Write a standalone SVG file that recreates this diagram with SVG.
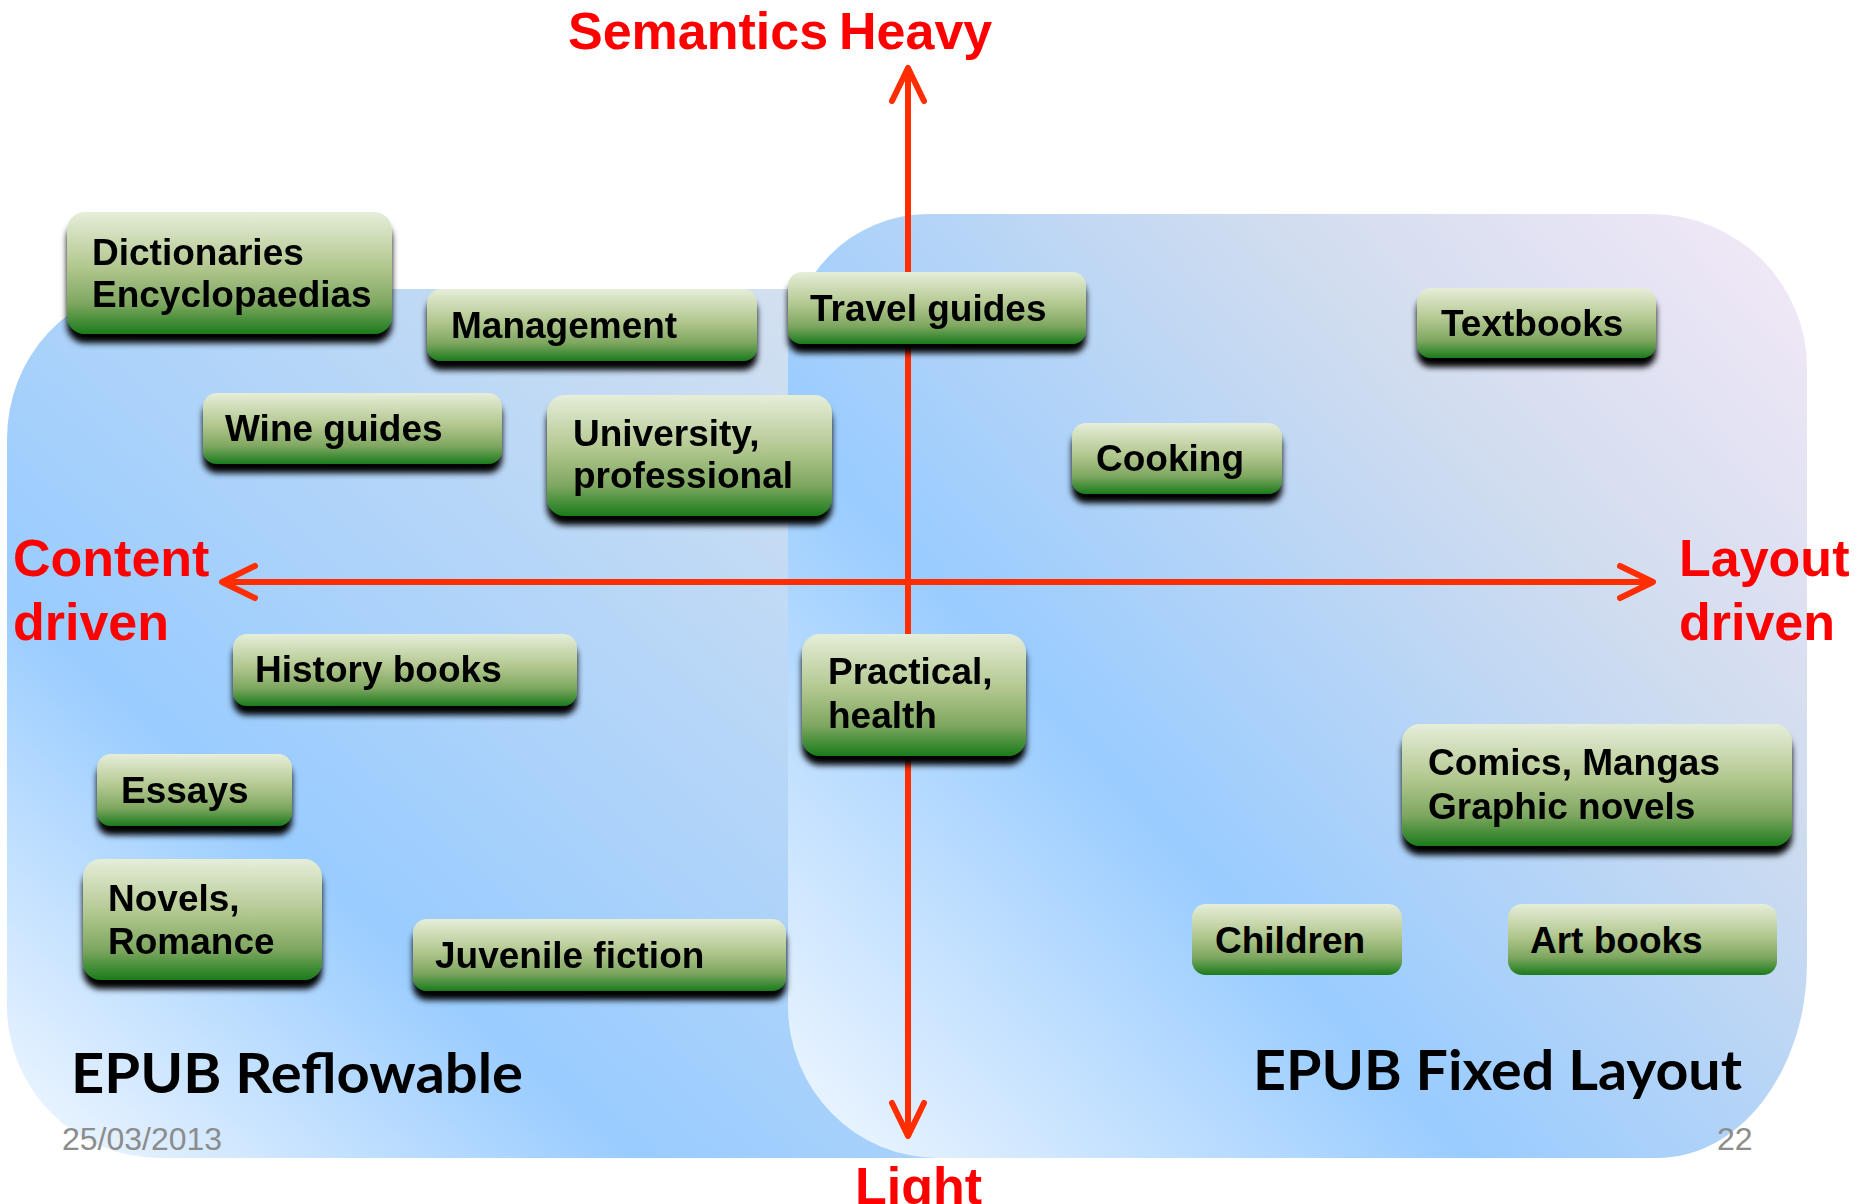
<svg xmlns="http://www.w3.org/2000/svg" width="1858" height="1204" viewBox="0 0 1858 1204">
<style>
.node-box{fill:url(#gGreen);}
.shadowed{filter:url(#shadow);}
.lbl{font-family:"Liberation Sans",Arial,sans-serif;font-weight:bold;font-size:37px;fill:#000;}
.axis-lbl{font-family:"Liberation Sans",Arial,sans-serif;font-weight:bold;font-size:52px;fill:#ff0000;}
.foot{font-family:"Liberation Sans",Arial,sans-serif;font-size:32px;fill:#8c8c8c;}
.region-lbl{font-family:Lato,"Liberation Sans",sans-serif;font-weight:bold;font-size:55px;fill:#000;}
.axis{stroke:#ff2d00;stroke-width:6;fill:none;}
</style>
<defs>
<linearGradient id="gGreen" x1="0" y1="0" x2="0" y2="1">
<stop offset="0" stop-color="#e6eed9"/>
<stop offset="0.45" stop-color="#b2c78f"/>
<stop offset="0.75" stop-color="#7ea760"/>
<stop offset="1" stop-color="#1b7b1b"/>
</linearGradient>
<linearGradient id="gLeft" gradientUnits="userSpaceOnUse" x1="7" y1="1158" x2="788" y2="289">
<stop offset="0" stop-color="#f4f9ff"/>
<stop offset="0.36" stop-color="#99ccff"/>
<stop offset="1" stop-color="#d3e0f0"/>
</linearGradient>
<linearGradient id="gRight" gradientUnits="userSpaceOnUse" x1="788" y1="1158" x2="1807" y2="214">
<stop offset="0" stop-color="#f2f8ff"/>
<stop offset="0.36" stop-color="#99ccff"/>
<stop offset="0.7" stop-color="#cfdcef"/>
<stop offset="1" stop-color="#f5e9f7"/>
</linearGradient>
<filter id="shadow" x="-5%" y="-10%" width="110%" height="140%">
<feGaussianBlur in="SourceAlpha" stdDeviation="3"/>
<feOffset dy="9" result="b"/>
<feMerge><feMergeNode in="b"/><feMergeNode in="SourceGraphic"/></feMerge>
</filter>
<marker id="arrow" markerUnits="userSpaceOnUse" viewBox="-40 -20 44 40" refX="0" refY="0" markerWidth="44" markerHeight="40" orient="auto-start-reverse" overflow="visible">
<path d="M -33 -16 L 0 0 L -33 16" fill="none" stroke="#ff2d00" stroke-width="6" stroke-linecap="round" stroke-linejoin="round"/>
</marker>
</defs>
<rect width="1858" height="1204" fill="#ffffff"/>
<g id="region-reflowable">
<path d="M 147 289 H 1000 V 1158 H 160 A 153 152 0 0 1 7 1006 V 439 A 140 150 0 0 1 147 289 Z" fill="url(#gLeft)"/>
</g>
<g id="region-fixed">
<path d="M 928 214 H 1651 A 156 154 0 0 1 1807 368 V 963 A 150 195 0 0 1 1657 1158 H 938 A 150 152 0 0 1 788 1006 V 357 A 140 143 0 0 1 928 214 Z" fill="url(#gRight)"/>
</g>
<g id="connectors">
<line class="axis" x1="908" y1="68" x2="908" y2="1136" marker-start="url(#arrow)" marker-end="url(#arrow)"/>
<line class="axis" x1="222" y1="582" x2="1653" y2="582" marker-start="url(#arrow)" marker-end="url(#arrow)"/>
</g>
<g id="node-dictionaries" class="shadowed">
<rect class="node-box" x="67" y="212" width="325" height="122" rx="18"/>
<text class="lbl" x="92" y="265">Dictionaries</text>
<text class="lbl" x="92" y="307">Encyclopaedias</text>
</g>
<g id="node-management" class="shadowed">
<rect class="node-box" x="427" y="289" width="330" height="72" rx="14"/>
<text class="lbl" x="451" y="338">Management</text>
</g>
<g id="node-travel" class="shadowed">
<rect class="node-box" x="788" y="272" width="298" height="72" rx="14"/>
<text class="lbl" x="810" y="321">Travel guides</text>
</g>
<g id="node-textbooks" class="shadowed">
<rect class="node-box" x="1417" y="288" width="239" height="70" rx="14"/>
<text class="lbl" x="1441" y="336">Textbooks</text>
</g>
<g id="node-wine" class="shadowed">
<rect class="node-box" x="203" y="393" width="299" height="71" rx="14"/>
<text class="lbl" x="225" y="441">Wine guides</text>
</g>
<g id="node-university" class="shadowed">
<rect class="node-box" x="547" y="395" width="285" height="121" rx="18"/>
<text class="lbl" x="573" y="446">University,</text>
<text class="lbl" x="573" y="488">professional</text>
</g>
<g id="node-cooking" class="shadowed">
<rect class="node-box" x="1072" y="423" width="210" height="71" rx="14"/>
<text class="lbl" x="1096" y="471">Cooking</text>
</g>
<g id="node-history" class="shadowed">
<rect class="node-box" x="233" y="634" width="344" height="72" rx="14"/>
<text class="lbl" x="255" y="682">History books</text>
</g>
<g id="node-practical" class="shadowed">
<rect class="node-box" x="802" y="634" width="224" height="122" rx="18"/>
<text class="lbl" x="828" y="684">Practical,</text>
<text class="lbl" x="828" y="728">health</text>
</g>
<g id="node-comics" class="shadowed">
<rect class="node-box" x="1402" y="724" width="390" height="122" rx="18"/>
<text class="lbl" x="1428" y="775">Comics, Mangas</text>
<text class="lbl" x="1428" y="819">Graphic novels</text>
</g>
<g id="node-essays" class="shadowed">
<rect class="node-box" x="97" y="754" width="195" height="72" rx="14"/>
<text class="lbl" x="121" y="803">Essays</text>
</g>
<g id="node-novels" class="shadowed">
<rect class="node-box" x="83" y="859" width="239" height="121" rx="18"/>
<text class="lbl" x="108" y="911">Novels,</text>
<text class="lbl" x="108" y="954">Romance</text>
</g>
<g id="node-juvenile" class="shadowed">
<rect class="node-box" x="413" y="919" width="373" height="72" rx="14"/>
<text class="lbl" x="435" y="968">Juvenile fiction</text>
</g>
<g id="node-children">
<rect class="node-box" x="1192" y="904" width="210" height="71" rx="14"/>
<text class="lbl" x="1215" y="953">Children</text>
</g>
<g id="node-artbooks">
<rect class="node-box" x="1508" y="904" width="269" height="71" rx="14"/>
<text class="lbl" x="1530" y="953">Art books</text>
</g>
<g id="labels">
<text class="axis-lbl" x="568" y="49">Semantics</text>
<text class="axis-lbl" x="839" y="49">Heavy</text>
<text class="axis-lbl" x="13" y="576">Content</text>
<text class="axis-lbl" x="13" y="640">driven</text>
<text class="axis-lbl" x="1679" y="576">Layout</text>
<text class="axis-lbl" x="1679" y="640">driven</text>
<text class="axis-lbl" x="855" y="1204">Light</text>
<text class="region-lbl" x="71" y="1093" textLength="452" lengthAdjust="spacingAndGlyphs">EPUB Reflowable</text>
<text class="region-lbl" x="1253" y="1090" textLength="489" lengthAdjust="spacingAndGlyphs">EPUB Fixed Layout</text>
<text class="foot" x="62" y="1150">25/03/2013</text>
<text class="foot" x="1717" y="1150">22</text>
</g>
</svg>
